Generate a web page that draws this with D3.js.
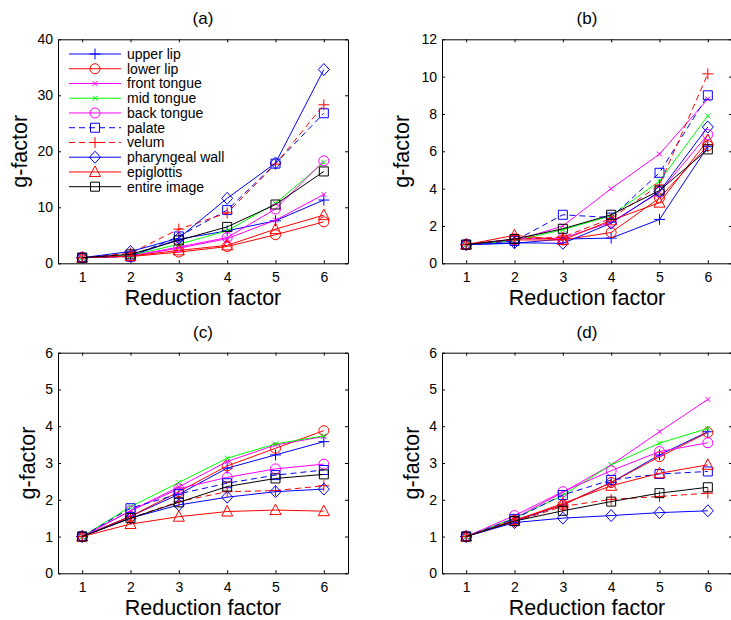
<!DOCTYPE html>
<html lang="en">
<head>
<meta charset="UTF-8">
<title>g-factor vs reduction factor</title>
<style>
  body { margin: 0; background: #fff; }
  svg { display: block; font-family: "Liberation Sans", Arial, sans-serif; }
  .axis path, .axis line { stroke: #000; }
  .axis text { font-size: 14px; fill: #000; font-family: "Liberation Sans", Arial, sans-serif; }
</style>
</head>
<body>
<svg id="chart" width="731" height="620"></svg>
<script src="https://d3js.org/d3.v7.min.js"></script>
<script>
// --- data ---
const reduction = [1, 2, 3, 4, 5, 6];
const seriesNames = ["upper lip", "lower lip", "front tongue", "mid tongue", "back tongue",
                     "palate", "velum", "pharyngeal wall", "epiglottis", "entire image"];

// one row per series, same order as seriesNames
const panelA = [
  [1, 1.3, 4.3, 5.8, 7.6, 11.3],
  [1, 1.2, 2.0, 3.0, 5.1, 7.4],
  [1, 1.3, 2.7, 4.4, 7.7, 12.3],
  [1, 1.4, 3.4, 5.8, 10.7, 18.0],
  [1, 1.3, 2.9, 4.6, 9.7, 18.3],
  [1, 1.2, 4.8, 9.5, 17.8, 26.8],
  [1, 1.8, 6.1, 9.0, 17.7, 28.3],
  [1, 2.1, 4.5, 11.6, 17.9, 34.6],
  [1, 1.3, 2.3, 3.2, 6.1, 8.6],
  [1, 1.6, 4.1, 6.5, 10.5, 16.4]
];
const panelB = [
  [1, 1.07, 1.3, 1.35, 2.35, 6.25],
  [1, 1.25, 1.25, 1.65, 3.5, 6.3],
  [1, 1.2, 2.0, 4.0, 5.85, 8.8],
  [1, 1.2, 1.8, 2.55, 4.4, 7.9],
  [1, 1.3, 1.35, 2.2, 3.8, 6.9],
  [1, 1.2, 2.6, 2.45, 4.85, 9.0],
  [1, 1.3, 1.4, 2.4, 4.2, 10.15],
  [1, 1.1, 1.07, 2.15, 3.85, 7.3],
  [1, 1.5, 1.25, 2.3, 3.25, 6.6],
  [1, 1.3, 1.85, 2.6, 3.9, 6.1]
];
const panelC = [
  [1, 1.55, 2.15, 2.86, 3.22, 3.58],
  [1, 1.55, 2.22, 2.92, 3.4, 3.88],
  [1, 1.7, 2.35, 3.04, 3.49, 3.72],
  [1, 1.81, 2.47, 3.13, 3.52, 3.74],
  [1, 1.7, 2.3, 2.61, 2.84, 2.97],
  [1, 1.77, 2.16, 2.45, 2.67, 2.81],
  [1, 1.5, 1.95, 2.22, 2.25, 2.38],
  [1, 1.5, 1.86, 2.07, 2.22, 2.29],
  [1, 1.34, 1.54, 1.68, 1.72, 1.69],
  [1, 1.5, 1.93, 2.36, 2.58, 2.69]
];
const panelD = [
  [1, 1.42, 1.86, 2.47, 3.22, 3.85],
  [1, 1.45, 1.86, 2.47, 3.17, 3.83],
  [1, 1.5, 2.2, 2.95, 3.85, 4.73],
  [1, 1.5, 2.12, 2.95, 3.54, 3.94],
  [1, 1.57, 2.22, 2.79, 3.31, 3.55],
  [1, 1.48, 2.13, 2.54, 2.7, 2.77],
  [1, 1.4, 1.82, 2.01, 2.09, 2.18],
  [1, 1.38, 1.5, 1.57, 1.65, 1.7],
  [1, 1.43, 1.9, 2.38, 2.72, 2.95],
  [1, 1.42, 1.7, 1.95, 2.18, 2.34]
];

const yTicksA = [0, 10, 20, 30, 40];
const yTicksB = [0, 2, 4, 6, 8, 10, 12];
const yTicksCD = [0, 1, 2, 3, 4, 5, 6];

// --- styles per series ---
const colors = ["#0000ff", "#ff0000", "#ff00ff", "#00ff00", "#ff00ff",
                "#0000ff", "#ff0000", "#0000ff", "#ff0000", "#000000"];
const markers = ["plus", "circle", "x", "x", "circle", "square", "plus", "diamond", "triangle", "square"];
const dashes = [null, null, null, null, null, "6,4", "6,4", null, null, null];

function markerPath(type) {
  switch (type) {
    case "plus": return "M-5.5,0H5.5M0,-5.5V5.5";
    case "x": return "M-2.5,-2.5L2.5,2.5M-2.5,2.5L2.5,-2.5";
    case "circle": return "M5,0A5,5 0 1 1 -5,0A5,5 0 1 1 5,0Z";
    case "square": return "M-4.5,-4.5H4.5V4.5H-4.5Z";
    case "diamond": return "M0,-6L5.5,0L0,6L-5.5,0Z";
    case "triangle": return "M0,-6L5.5,4.5L-5.5,4.5Z";
  }
}

const svg = d3.select("#chart");
const fmt = d3.format("d");

const panels = [
  { id: "a", title: "(a)", data: panelA, yMax: 40, yTicks: yTicksA, left: 58, top: 39.3, right: 348, bottom: 263.3, labelX: 19, legend: true },
  { id: "b", title: "(b)", data: panelB, yMax: 12, yTicks: yTicksB, left: 442, top: 39.3, right: 732, bottom: 263.3, labelX: 401 },
  { id: "c", title: "(c)", data: panelC, yMax: 6, yTicks: yTicksCD, left: 58, top: 352.7, right: 348, bottom: 573.3, labelX: 27 },
  { id: "d", title: "(d)", data: panelD, yMax: 6, yTicks: yTicksCD, left: 442, top: 352.7, right: 732, bottom: 573.3, labelX: 411 }
];

panels.forEach(p => {
  const x = d3.scaleLinear().domain([0.5, 6.5]).range([p.left, p.right]);
  const y = d3.scaleLinear().domain([0, p.yMax]).range([p.bottom, p.top]);
  const g = svg.append("g");

  g.append("clipPath").attr("id", "clip-" + p.id)
    .append("rect")
    .attr("x", p.left).attr("y", p.top)
    .attr("width", p.right - p.left).attr("height", p.bottom - p.top);

  // axes, matlab-style inward ticks on all four sides
  g.append("g").attr("class", "axis")
    .attr("transform", `translate(0,${p.bottom})`)
    .call(d3.axisBottom(x).tickValues(reduction).tickFormat(fmt).tickSizeInner(-3).tickSizeOuter(0).tickPadding(8.5));
  g.append("g").attr("class", "axis")
    .attr("transform", `translate(0,${p.top})`)
    .call(d3.axisTop(x).tickValues(reduction).tickSizeInner(-3).tickSizeOuter(0).tickFormat(""));
  g.append("g").attr("class", "axis")
    .attr("transform", `translate(${p.left},0)`)
    .call(d3.axisLeft(y).tickValues(p.yTicks).tickFormat(fmt).tickSizeInner(-3).tickSizeOuter(0).tickPadding(5));
  g.append("g").attr("class", "axis")
    .attr("transform", `translate(${p.right},0)`)
    .call(d3.axisRight(y).tickValues(p.yTicks).tickSizeInner(-3).tickSizeOuter(0).tickFormat(""));

  // titles and labels
  const cx = p.left + (348 - 58) / 2;
  g.append("text").attr("x", cx).attr("y", p.top - 15)
    .attr("text-anchor", "middle").attr("font-size", 17).text(p.title);
  g.append("text").attr("x", cx).attr("y", p.bottom + 42)
    .attr("text-anchor", "middle").attr("font-size", 21.5).text("Reduction factor");
  g.append("text")
    .attr("transform", `translate(${p.labelX},${(p.top + p.bottom) / 2}) rotate(-90)`)
    .attr("dy", "0.35em")
    .attr("text-anchor", "middle").attr("font-size", 21.5).text("g-factor");

  // series
  const plot = g.append("g").attr("clip-path", `url(#clip-${p.id})`);
  const line = d3.line().x((v, i) => x(reduction[i])).y(v => y(v));
  p.data.forEach((vals, s) => {
    plot.append("path")
      .attr("d", line(vals))
      .attr("fill", "none")
      .attr("stroke", colors[s])
      .attr("stroke-width", 1)
      .attr("stroke-dasharray", dashes[s]);
    plot.selectAll(null)
      .data(vals)
      .join("path")
      .attr("transform", (v, i) => `translate(${x(reduction[i])},${y(v)})`)
      .attr("d", markerPath(markers[s]))
      .attr("fill", "none")
      .attr("stroke", colors[s])
      .attr("stroke-width", 1);
  });

  if (p.legend) {
    const lg = g.append("g");
    const rowY = d3.scaleLinear().domain([0, seriesNames.length - 1]).range([54, 186.7]);
    seriesNames.forEach((name, s) => {
      const yy = rowY(s);
      lg.append("line")
        .attr("x1", 69).attr("x2", 121).attr("y1", yy).attr("y2", yy)
        .attr("stroke", colors[s]).attr("stroke-width", 1)
        .attr("stroke-dasharray", dashes[s]);
      lg.append("path")
        .attr("transform", `translate(95,${yy})`)
        .attr("d", markerPath(markers[s]))
        .attr("fill", "none").attr("stroke", colors[s]);
      lg.append("text")
        .attr("x", 127).attr("y", yy).attr("dy", "0.35em")
        .attr("font-size", 14).text(name);
    });
  }
});
</script>
</body>
</html>
